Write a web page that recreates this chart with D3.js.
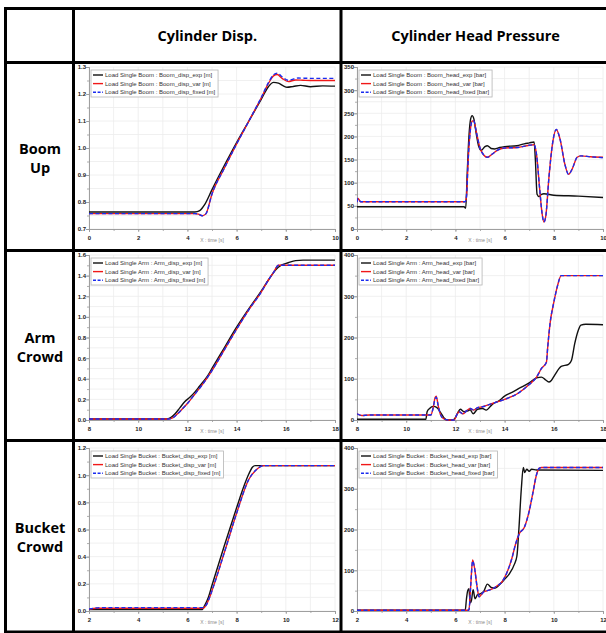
<!DOCTYPE html>
<html>
<head>
<meta charset="utf-8">
<script src="https://cdn.jsdelivr.net/npm/d3@7"></script>
<style>
  html, body { margin: 0; padding: 0; background: #fff; }
  svg { display: block; }
</style>
</head>
<body>
<div id="chart"></div>
<script>
// ---- table text
const columnTitles = ["Cylinder Disp.", "Cylinder Head Pressure"]
const rowTitles = [["Boom", "Up"], ["Arm", "Crowd"], ["Bucket", "Crowd"]]

// ---- axis setup per panel (row major: boom, arm, bucket / disp, head)
const xDomains = [[0, 10], [8, 18], [2, 12]]
const xTicks = [[0, 2, 4, 6, 8, 10], [8, 10, 12, 14, 16, 18], [2, 4, 6, 8, 10, 12]]
const dispDomains = [[0.7, 1.3], [0, 1.6], [0, 1.2]]
const dispTicks = [[0.7, 0.8, 0.9, 1.0, 1.1, 1.2, 1.3], [0, 0.2, 0.4, 0.6, 0.8, 1.0, 1.2, 1.4, 1.6], [0, 0.2, 0.4, 0.6, 0.8, 1.0, 1.2]]
const headDomains = [[0, 350], [0, 400], [0, 400]]
const headTicks = [[0, 50, 100, 150, 200, 250, 300, 350], [0, 100, 200, 300, 400], [0, 100, 200, 300, 400]]
const seriesSuffix = ["exp", "var", "fixed"]

// ---- Boom up
const boomDispExp = [[0,0.763],[4.3,0.763],[4.5,0.768],[4.7,0.79],[5.0,0.846],[5.5,0.935],[6.0,1.02],[6.5,1.10],[7.0,1.18],[7.3,1.228],[7.5,1.243],[7.7,1.24],[7.9,1.23],[8.05,1.225],[8.3,1.228],[8.6,1.232],[9.0,1.227],[9.5,1.23],[10,1.229]]
const boomDispVar = [[0,0.757],[4.3,0.757],[4.45,0.755],[4.6,0.749],[4.75,0.756],[5.0,0.83],[5.5,0.925],[6.0,1.015],[6.5,1.10],[7.0,1.185],[7.3,1.24],[7.5,1.267],[7.65,1.272],[7.85,1.258],[8.1,1.246],[8.4,1.252],[8.7,1.251],[9.0,1.25],[10,1.25]]
const boomDispFixed = [[0,0.757],[4.3,0.757],[4.45,0.755],[4.6,0.749],[4.75,0.756],[5.0,0.83],[5.5,0.925],[6.0,1.015],[6.5,1.10],[7.0,1.187],[7.3,1.243],[7.5,1.271],[7.65,1.277],[7.85,1.264],[8.1,1.251],[8.5,1.259],[9.0,1.258],[10,1.258]]
const boomHeadExp = [[0,48],[4.35,48],[4.42,45],[4.48,120],[4.55,200],[4.62,238],[4.68,245],[4.75,238],[4.85,205],[4.95,178],[5.05,170],[5.2,178],[5.3,180],[5.45,174],[5.6,173],[5.8,176],[6.0,178],[6.5,180],[6.8,184],[7.0,186],[7.2,188],[7.25,150],[7.32,75],[7.4,70],[7.5,75],[7.6,76],[8.0,73],[9.0,71],[10,68]]
const boomHeadVar = [[0,58],[0.04,66],[0.15,59],[4.4,59],[4.45,70],[4.52,150],[4.6,210],[4.68,233],[4.74,234],[4.85,210],[5.0,175],[5.15,160],[5.3,155],[5.5,162],[5.7,170],[6.0,175],[6.5,176],[7.0,181],[7.2,182],[7.3,160],[7.42,90],[7.52,35],[7.6,15],[7.68,30],[7.8,110],[7.95,185],[8.1,215],[8.25,195],[8.45,140],[8.6,118],[8.75,130],[8.95,155],[9.1,158],[9.5,156],[10,155]]
const boomHeadFixed = [[0,58],[0.04,66],[0.15,59],[4.4,59],[4.45,70],[4.52,150],[4.6,210],[4.68,233],[4.74,234],[4.85,210],[5.0,175],[5.15,160],[5.3,155],[5.5,162],[5.7,170],[6.0,175],[6.5,176],[7.0,181],[7.2,182],[7.3,160],[7.42,90],[7.52,35],[7.6,15],[7.68,30],[7.8,110],[7.95,185],[8.1,215],[8.25,195],[8.45,140],[8.6,118],[8.75,130],[8.95,155],[9.1,158],[9.5,156],[10,154]]

// ---- Arm crowd
const armDispExp = [[8,0.01],[11.15,0.01],[11.3,0.02],[11.5,0.06],[11.7,0.12],[11.9,0.18],[12.1,0.22],[12.3,0.27],[12.5,0.33],[12.8,0.42],[13.0,0.5],[13.5,0.7],[14,0.9],[14.5,1.08],[15,1.25],[15.3,1.36],[15.6,1.46],[15.8,1.5],[16.1,1.525],[16.4,1.545],[16.7,1.55],[18,1.55]]
const armDispVar = [[8,0.01],[11.25,0.01],[11.4,0.02],[11.6,0.06],[11.8,0.11],[12.0,0.16],[12.3,0.25],[12.6,0.34],[13.0,0.48],[13.5,0.68],[14,0.88],[14.5,1.07],[15,1.24],[15.3,1.36],[15.5,1.43],[15.7,1.5],[18,1.5]]
const armDispFixed = [[8,0.01],[11.25,0.01],[11.4,0.02],[11.6,0.06],[11.8,0.11],[12.0,0.16],[12.3,0.25],[12.6,0.34],[13.0,0.48],[13.5,0.68],[14,0.88],[14.5,1.07],[15,1.24],[15.3,1.36],[15.5,1.43],[15.7,1.5],[18,1.5]]
const armHeadExp = [[8,2],[10.8,2],[10.85,20],[10.95,28],[11.1,33],[11.25,30],[11.4,18],[11.55,4],[11.65,0],[11.9,0],[12.0,6],[12.1,18],[12.2,26],[12.35,20],[12.5,22],[12.6,25],[12.72,15],[12.9,26],[13.1,28],[13.25,24],[13.5,38],[13.8,48],[14,58],[14.3,67],[14.6,77],[15,90],[15.3,102],[15.5,104],[15.65,98],[15.8,92],[15.9,96],[16.05,110],[16.3,130],[16.6,135],[16.72,145],[16.85,185],[17.0,218],[17.1,230],[17.3,232],[18,231]]
const armHeadVar = [[8,15],[8.2,11],[8.5,12],[11.0,12],[11.08,25],[11.18,55],[11.22,58],[11.3,35],[11.4,12],[11.55,2],[11.7,0],[11.95,0],[12.05,12],[12.15,20],[12.3,15],[12.45,22],[12.6,28],[12.75,24],[12.9,30],[13.1,32],[13.5,40],[14,50],[14.5,63],[15,86],[15.3,104],[15.5,125],[15.7,140],[15.75,175],[15.85,235],[16.0,285],[16.15,325],[16.3,350],[18,350]]
const armHeadFixed = [[8,15],[8.2,11],[8.5,12],[11.0,12],[11.08,25],[11.18,52],[11.22,55],[11.3,35],[11.4,12],[11.55,2],[11.7,0],[11.95,0],[12.05,12],[12.15,20],[12.3,15],[12.45,22],[12.6,28],[12.75,24],[12.9,30],[13.1,32],[13.5,40],[14,50],[14.5,63],[15,86],[15.3,104],[15.5,125],[15.7,140],[15.75,175],[15.85,235],[16.0,285],[16.15,325],[16.3,350],[18,350]]

// ---- Bucket crowd
const bucketDispExp = [[2,0.01],[6.6,0.01],[6.7,0.04],[6.85,0.1],[7.0,0.19],[7.5,0.48],[8.0,0.76],[8.3,0.92],[8.5,1.01],[8.65,1.06],[8.75,1.07],[12,1.07]]
const bucketDispVar = [[2,0.012],[2.3,0.02],[6.65,0.02],[6.75,0.04],[6.9,0.1],[7.0,0.15],[7.5,0.43],[8.0,0.72],[8.5,0.97],[8.8,1.04],[9.1,1.07],[12,1.07]]
const bucketDispFixed = [[2,0.015],[2.5,0.025],[6.6,0.025],[6.75,0.04],[6.9,0.1],[7.0,0.15],[7.5,0.43],[8.0,0.72],[8.5,0.97],[8.8,1.04],[9.1,1.07],[12,1.07]]
const bucketHeadExp = [[2,2],[6.4,2],[6.45,30],[6.5,50],[6.55,55],[6.6,20],[6.65,25],[6.72,52],[6.8,30],[6.9,40],[7.0,42],[7.15,48],[7.3,66],[7.45,58],[7.6,56],[7.8,65],[8.0,78],[8.2,92],[8.4,115],[8.5,135],[8.58,200],[8.68,300],[8.76,352],[8.82,340],[8.9,348],[9.0,343],[9.1,348],[9.3,346],[12,345]]
const bucketHeadVar = [[2,2],[6.55,2],[6.62,60],[6.7,125],[6.78,105],[6.88,60],[6.96,35],[7.05,40],[7.15,47],[7.3,50],[7.5,54],[7.7,62],[7.9,72],[8.1,95],[8.3,130],[8.45,165],[8.6,190],[8.8,205],[9.0,245],[9.15,290],[9.3,335],[9.4,350],[9.5,352],[12,352]]
const bucketHeadFixed = [[2,2],[6.55,2],[6.62,60],[6.7,123],[6.78,105],[6.88,60],[6.96,35],[7.05,40],[7.15,47],[7.3,50],[7.5,54],[7.7,62],[7.9,72],[8.1,95],[8.3,130],[8.45,165],[8.6,190],[8.8,205],[9.0,245],[9.15,290],[9.3,335],[9.4,350],[9.5,352],[12,352]]

const W = 606, H = 633

// table grid lines
const colX = [5.5, 73.5, 341]
const rowY = [8.5, 62.5, 250.5, 440.5, 632]
const tableRight = 612

// plot boxes inside cells
const plotLeft = [89, 357]
const plotRight = [335, 603]
const plotTop = [67, 255, 448]
const plotBottom = [229, 420, 611]

const colors = ["#111", "#f01818", "#1a2cf0"]

const svg = d3.select('#chart').append('svg')
    .attr('width', W)
    .attr('height', H)
    .style('font-family', '"Liberation Sans", Arial, sans-serif')

function drawPanel(row, col, series, names, xDom, xT, yDom, yT, yFmt) {
    const left = plotLeft[col], right = plotRight[col], top = plotTop[row], bottom = plotBottom[row]
    const x = d3.scaleLinear().domain(xDom).range([left, right])
    const y = d3.scaleLinear().domain(yDom).range([bottom, top])
    const g = svg.append('g')

    // minor = half of the major step
    const xStep = xT[1] - xT[0], yStep = yT[1] - yT[0]
    const xMinor = d3.range(xDom[0], xDom[1] + xStep / 4, xStep / 2)
    const yMinor = d3.range(yDom[0], yDom[1] + yStep / 4, yStep / 2).map(v => +v.toFixed(4))

    g.append('g').selectAll('line').data(xMinor).join('line')
        .attr('x1', d => x(d)).attr('x2', d => x(d))
        .attr('y1', top).attr('y2', bottom)
        .attr('stroke', '#ececec').attr('stroke-width', 0.8)
    g.append('g').selectAll('line').data(yMinor).join('line')
        .attr('x1', left).attr('x2', right)
        .attr('y1', d => y(d)).attr('y2', d => y(d))
        .attr('stroke', '#ececec').attr('stroke-width', 0.8)

    // axes
    const ax = g.append('g').attr('transform', `translate(0,${bottom})`)
        .call(d3.axisBottom(x).tickValues(xT).tickSize(3).tickFormat(d3.format('d')))
    const axm = g.append('g').attr('transform', `translate(0,${bottom})`)
        .call(d3.axisBottom(x).tickValues(xMinor).tickSize(2).tickFormat(''))
    const ay = g.append('g').attr('transform', `translate(${left},0)`)
        .call(d3.axisLeft(y).tickValues(yT).tickSize(3).tickFormat(yFmt))
    const aym = g.append('g').attr('transform', `translate(${left},0)`)
        .call(d3.axisLeft(y).tickValues(yMinor).tickSize(2).tickFormat(''))
    for (const a of [ax, axm, ay, aym]) {
        a.select('.domain').attr('stroke', '#9a9a9a').attr('stroke-width', 0.8)
        a.selectAll('.tick line').attr('stroke', '#9a9a9a').attr('stroke-width', 0.8)
        a.selectAll('.tick text').attr('fill', '#222').style('font-size', '6px').style('font-weight', 'bold')
    }
    ax.selectAll('.tick text').attr('dy', '0.85em')
    ay.selectAll('.tick text').attr('x', -3)

    g.append('text')
        .attr('x', (left + right) / 2).attr('y', bottom + 13)
        .attr('text-anchor', 'middle')
        .attr('fill', '#8a8a8a').style('font-size', '5px')
        .text('X : time [s]')

    // curves
    const clipId = `clip_${row}_${col}`
    g.append('clipPath').attr('id', clipId)
        .append('rect').attr('x', left).attr('y', top - 2).attr('width', right - left + 1).attr('height', bottom - top + 3)
    const line = d3.line().x(d => x(d[0])).y(d => y(d[1])).curve(d3.curveMonotoneX)
    const lines = g.append('g').attr('clip-path', `url(#${clipId})`)
    series.forEach((s, i) => {
        lines.append('path')
            .attr('d', line(s))
            .attr('fill', 'none')
            .attr('stroke', colors[i])
            .attr('stroke-width', 1.4)
            .attr('stroke-dasharray', i === 2 ? '4,2.5' : null)
    })

    // legend
    const lg = g.append('g').attr('transform', `translate(${left + 2},${top + 3})`)
    const box = lg.append('rect')
        .attr('fill', '#fff').attr('stroke', '#b5b5b5').attr('stroke-width', 0.8)
    let maxW = 0
    names.forEach((n, i) => {
        const yy = 5 + i * 8.6
        lg.append('line').attr('x1', 2).attr('x2', 12).attr('y1', yy).attr('y2', yy)
            .attr('stroke', colors[i]).attr('stroke-width', 1.4)
            .attr('stroke-dasharray', i === 2 ? '3,1.6' : null)
        const t = lg.append('text').attr('x', 14).attr('y', yy).attr('dy', '0.35em')
            .attr('fill', '#333').style('font-size', '6px')
            .text(n)
        maxW = Math.max(maxW, t.node().getComputedTextLength())
    })
    box.attr('x', 0).attr('y', 0).attr('width', maxW + 17).attr('height', 27)
}

const groups = [["Boom", "Boom"], ["Arm", "Arm"], ["Bucket", "Bucket"]]
const allSeries = [
    [[boomDispExp, boomDispVar, boomDispFixed], [boomHeadExp, boomHeadVar, boomHeadFixed]],
    [[armDispExp, armDispVar, armDispFixed], [armHeadExp, armHeadVar, armHeadFixed]],
    [[bucketDispExp, bucketDispVar, bucketDispFixed], [bucketHeadExp, bucketHeadVar, bucketHeadFixed]]
]

allSeries.forEach((rowSeries, r) => {
    const grp = groups[r][0]
    const dispNames = seriesSuffix.map(s => `Load Single ${grp} : ${grp}_disp_${s} [m]`)
    const headNames = seriesSuffix.map(s => `Load Single ${grp} : ${grp}_head_${s} [bar]`)
    drawPanel(r, 0, rowSeries[0], dispNames, xDomains[r], xTicks[r], dispDomains[r], dispTicks[r], d3.format('.1f'))
    drawPanel(r, 1, rowSeries[1], headNames, xDomains[r], xTicks[r], headDomains[r], headTicks[r], d3.format('d'))
})

// table lines
const tl = svg.append('g').attr('stroke', '#000').attr('stroke-width', 3)
rowY.forEach(yy => tl.append('line').attr('x1', colX[0] - 1.5).attr('x2', tableRight).attr('y1', yy).attr('y2', yy))
colX.forEach(xx => tl.append('line').attr('x1', xx).attr('x2', xx).attr('y1', rowY[0] - 1.5).attr('y2', rowY[rowY.length - 1] + 1.5))

// header + row labels
const headFont = '"Open Sans", "Noto Sans", sans-serif'
columnTitles.forEach((t, i) => {
    svg.append('text')
        .attr('x', (colX[i + 1] + (i === 0 ? colX[2] : W + 4)) / 2)
        .attr('y', (rowY[0] + rowY[1]) / 2 + 5)
        .attr('text-anchor', 'middle')
        .style('font-family', headFont).style('font-weight', 'bold').style('font-size', '14.5px')
        .text(t)
})
rowTitles.forEach((lines, r) => {
    const cy = (rowY[r + 1] + rowY[r + 2]) / 2
    lines.forEach((t, k) => {
        svg.append('text')
            .attr('x', (colX[0] + colX[1]) / 2 + 0.5)
            .attr('y', cy - 3 + k * 19)
            .attr('text-anchor', 'middle')
            .style('font-family', headFont).style('font-weight', 'bold').style('font-size', '14.5px')
            .text(t)
    })
})
</script>
</body>
</html>
